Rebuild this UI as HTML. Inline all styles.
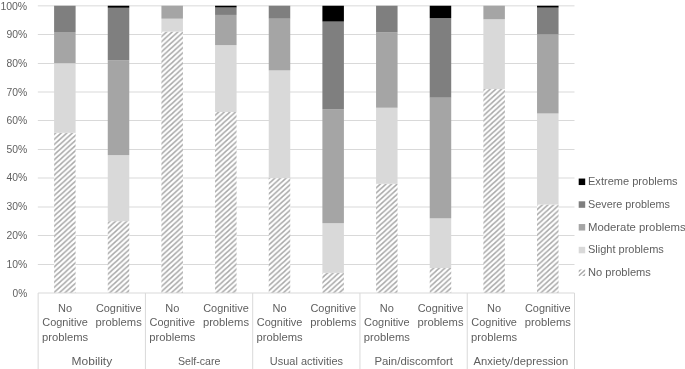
<!DOCTYPE html>
<html><head><meta charset="utf-8"><title>chart</title>
<style>html,body{margin:0;padding:0;background:#fff}svg{display:block}text{font-family:"Liberation Sans",sans-serif;fill:#5f5f5f}svg{will-change:transform;-webkit-font-smoothing:antialiased}</style></head>
<body>
<svg width="685" height="369" viewBox="0 0 685 369">
<defs><pattern id="h" width="5.6" height="5.1" patternUnits="userSpaceOnUse" patternTransform="translate(-0.7,107.8)"><rect width="5.6" height="5.1" fill="#fff"/><path d="M-2.8,2.55 L2.8,-2.55 M-2.8,7.6499999999999995 L8.399999999999999,-2.55 M2.8,7.6499999999999995 L8.399999999999999,2.55" stroke="#a8a8a8" stroke-width="1.45"/></pattern></defs>
<rect width="685" height="369" fill="#fff"/>
<line x1="37.85" x2="574.50" y1="264.50" y2="264.50" stroke="#d9d9d9" stroke-width="1"/>
<line x1="37.85" x2="574.50" y1="235.50" y2="235.50" stroke="#d9d9d9" stroke-width="1"/>
<line x1="37.85" x2="574.50" y1="207.00" y2="207.00" stroke="#d9d9d9" stroke-width="1"/>
<line x1="37.85" x2="574.50" y1="178.00" y2="178.00" stroke="#d9d9d9" stroke-width="1"/>
<line x1="37.85" x2="574.50" y1="149.50" y2="149.50" stroke="#d9d9d9" stroke-width="1"/>
<line x1="37.85" x2="574.50" y1="120.50" y2="120.50" stroke="#d9d9d9" stroke-width="1"/>
<line x1="37.85" x2="574.50" y1="92.00" y2="92.00" stroke="#d9d9d9" stroke-width="1"/>
<line x1="37.85" x2="574.50" y1="63.50" y2="63.50" stroke="#d9d9d9" stroke-width="1"/>
<line x1="37.85" x2="574.50" y1="34.50" y2="34.50" stroke="#d9d9d9" stroke-width="1"/>
<line x1="37.85" x2="574.50" y1="5.85" y2="5.85" stroke="#d9d9d9" stroke-width="1"/>
<rect x="54.10" y="132.86" width="21.50" height="160.14" fill="url(#h)"/>
<rect x="54.10" y="63.20" width="21.50" height="69.66" fill="#d9d9d9"/>
<rect x="54.10" y="32.03" width="21.50" height="31.17" fill="#a5a5a5"/>
<rect x="54.10" y="5.75" width="21.50" height="26.28" fill="#7f7f7f"/>
<rect x="107.76" y="221.19" width="21.50" height="71.81" fill="url(#h)"/>
<rect x="107.76" y="155.12" width="21.50" height="66.07" fill="#d9d9d9"/>
<rect x="107.76" y="60.33" width="21.50" height="94.79" fill="#a5a5a5"/>
<rect x="107.76" y="7.76" width="21.50" height="52.57" fill="#7f7f7f"/>
<rect x="107.76" y="5.75" width="21.50" height="2.01" fill="#000000"/>
<rect x="161.42" y="31.60" width="21.50" height="261.40" fill="url(#h)"/>
<rect x="161.42" y="18.68" width="21.50" height="12.93" fill="#d9d9d9"/>
<rect x="161.42" y="5.75" width="21.50" height="12.93" fill="#a5a5a5"/>
<rect x="215.08" y="112.03" width="21.50" height="180.97" fill="url(#h)"/>
<rect x="215.08" y="45.10" width="21.50" height="66.93" fill="#d9d9d9"/>
<rect x="215.08" y="14.94" width="21.50" height="30.16" fill="#a5a5a5"/>
<rect x="215.08" y="7.47" width="21.50" height="7.47" fill="#7f7f7f"/>
<rect x="215.08" y="5.75" width="21.50" height="1.72" fill="#000000"/>
<rect x="268.74" y="178.10" width="21.50" height="114.90" fill="url(#h)"/>
<rect x="268.74" y="70.38" width="21.50" height="107.72" fill="#d9d9d9"/>
<rect x="268.74" y="18.68" width="21.50" height="51.71" fill="#a5a5a5"/>
<rect x="268.74" y="5.75" width="21.50" height="12.93" fill="#7f7f7f"/>
<rect x="322.40" y="272.89" width="21.50" height="20.11" fill="url(#h)"/>
<rect x="322.40" y="223.20" width="21.50" height="49.69" fill="#d9d9d9"/>
<rect x="322.40" y="109.16" width="21.50" height="114.04" fill="#a5a5a5"/>
<rect x="322.40" y="21.55" width="21.50" height="87.61" fill="#7f7f7f"/>
<rect x="322.40" y="5.75" width="21.50" height="15.80" fill="#000000"/>
<rect x="376.06" y="183.84" width="21.50" height="109.16" fill="url(#h)"/>
<rect x="376.06" y="107.72" width="21.50" height="76.12" fill="#d9d9d9"/>
<rect x="376.06" y="32.18" width="21.50" height="75.55" fill="#a5a5a5"/>
<rect x="376.06" y="5.75" width="21.50" height="26.43" fill="#7f7f7f"/>
<rect x="429.72" y="268.01" width="21.50" height="24.99" fill="url(#h)"/>
<rect x="429.72" y="218.31" width="21.50" height="49.69" fill="#d9d9d9"/>
<rect x="429.72" y="97.67" width="21.50" height="120.65" fill="#a5a5a5"/>
<rect x="429.72" y="18.10" width="21.50" height="79.57" fill="#7f7f7f"/>
<rect x="429.72" y="5.75" width="21.50" height="12.35" fill="#000000"/>
<rect x="483.38" y="89.05" width="21.50" height="203.95" fill="url(#h)"/>
<rect x="483.38" y="19.25" width="21.50" height="69.80" fill="#d9d9d9"/>
<rect x="483.38" y="5.75" width="21.50" height="13.50" fill="#a5a5a5"/>
<rect x="537.04" y="204.53" width="21.50" height="88.47" fill="url(#h)"/>
<rect x="537.04" y="113.47" width="21.50" height="91.06" fill="#d9d9d9"/>
<rect x="537.04" y="34.48" width="21.50" height="78.99" fill="#a5a5a5"/>
<rect x="537.04" y="7.62" width="21.50" height="26.86" fill="#7f7f7f"/>
<rect x="537.04" y="5.75" width="21.50" height="1.87" fill="#000000"/>
<line x1="38.15" x2="574.50" y1="293.00" y2="293.00" stroke="#d9d9d9" stroke-width="1"/>
<line x1="38.15" x2="38.15" y1="293.00" y2="369" stroke="#d9d9d9" stroke-width="1"/>
<line x1="145.42" x2="145.42" y1="293.00" y2="369" stroke="#d9d9d9" stroke-width="1"/>
<line x1="252.69" x2="252.69" y1="293.00" y2="369" stroke="#d9d9d9" stroke-width="1"/>
<line x1="359.96" x2="359.96" y1="293.00" y2="369" stroke="#d9d9d9" stroke-width="1"/>
<line x1="467.23" x2="467.23" y1="293.00" y2="369" stroke="#d9d9d9" stroke-width="1"/>
<line x1="574.50" x2="574.50" y1="293.00" y2="369" stroke="#d9d9d9" stroke-width="1"/>
<text x="12.54" y="296.50" font-size="10.7" textLength="14.66" lengthAdjust="spacingAndGlyphs">0%</text>
<text x="6.46" y="267.77" font-size="10.7" textLength="20.74" lengthAdjust="spacingAndGlyphs">10%</text>
<text x="6.46" y="239.05" font-size="10.7" textLength="20.74" lengthAdjust="spacingAndGlyphs">20%</text>
<text x="6.46" y="210.32" font-size="10.7" textLength="20.74" lengthAdjust="spacingAndGlyphs">30%</text>
<text x="6.46" y="181.35" font-size="10.7" textLength="20.74" lengthAdjust="spacingAndGlyphs">40%</text>
<text x="6.46" y="152.88" font-size="10.7" textLength="20.74" lengthAdjust="spacingAndGlyphs">50%</text>
<text x="6.46" y="124.15" font-size="10.7" textLength="20.74" lengthAdjust="spacingAndGlyphs">60%</text>
<text x="6.46" y="96.28" font-size="10.7" textLength="20.74" lengthAdjust="spacingAndGlyphs">70%</text>
<text x="6.46" y="66.70" font-size="10.7" textLength="20.74" lengthAdjust="spacingAndGlyphs">80%</text>
<text x="6.46" y="37.98" font-size="10.7" textLength="20.74" lengthAdjust="spacingAndGlyphs">90%</text>
<text x="0.38" y="9.80" font-size="10.7" textLength="26.82" lengthAdjust="spacingAndGlyphs">100%</text>
<text x="58.03" y="311.60" font-size="10.7" textLength="14.07" lengthAdjust="spacingAndGlyphs">No</text>
<text x="42.27" y="326.25" font-size="10.7" textLength="45.60" lengthAdjust="spacingAndGlyphs">Cognitive</text>
<text x="42.00" y="340.90" font-size="10.7" textLength="46.12" lengthAdjust="spacingAndGlyphs">problems</text>
<text x="95.90" y="311.60" font-size="10.7" textLength="45.60" lengthAdjust="spacingAndGlyphs">Cognitive</text>
<text x="95.64" y="326.25" font-size="10.7" textLength="46.12" lengthAdjust="spacingAndGlyphs">problems</text>
<text x="165.30" y="311.60" font-size="10.7" textLength="14.07" lengthAdjust="spacingAndGlyphs">No</text>
<text x="149.54" y="326.25" font-size="10.7" textLength="45.60" lengthAdjust="spacingAndGlyphs">Cognitive</text>
<text x="149.28" y="340.90" font-size="10.7" textLength="46.12" lengthAdjust="spacingAndGlyphs">problems</text>
<text x="203.17" y="311.60" font-size="10.7" textLength="45.60" lengthAdjust="spacingAndGlyphs">Cognitive</text>
<text x="202.91" y="326.25" font-size="10.7" textLength="46.12" lengthAdjust="spacingAndGlyphs">problems</text>
<text x="272.57" y="311.60" font-size="10.7" textLength="14.07" lengthAdjust="spacingAndGlyphs">No</text>
<text x="256.81" y="326.25" font-size="10.7" textLength="45.60" lengthAdjust="spacingAndGlyphs">Cognitive</text>
<text x="256.55" y="340.90" font-size="10.7" textLength="46.12" lengthAdjust="spacingAndGlyphs">problems</text>
<text x="310.44" y="311.60" font-size="10.7" textLength="45.60" lengthAdjust="spacingAndGlyphs">Cognitive</text>
<text x="310.18" y="326.25" font-size="10.7" textLength="46.12" lengthAdjust="spacingAndGlyphs">problems</text>
<text x="379.84" y="311.60" font-size="10.7" textLength="14.07" lengthAdjust="spacingAndGlyphs">No</text>
<text x="364.08" y="326.25" font-size="10.7" textLength="45.60" lengthAdjust="spacingAndGlyphs">Cognitive</text>
<text x="363.82" y="340.90" font-size="10.7" textLength="46.12" lengthAdjust="spacingAndGlyphs">problems</text>
<text x="417.71" y="311.60" font-size="10.7" textLength="45.60" lengthAdjust="spacingAndGlyphs">Cognitive</text>
<text x="417.45" y="326.25" font-size="10.7" textLength="46.12" lengthAdjust="spacingAndGlyphs">problems</text>
<text x="487.11" y="311.60" font-size="10.7" textLength="14.07" lengthAdjust="spacingAndGlyphs">No</text>
<text x="471.35" y="326.25" font-size="10.7" textLength="45.60" lengthAdjust="spacingAndGlyphs">Cognitive</text>
<text x="471.09" y="340.90" font-size="10.7" textLength="46.12" lengthAdjust="spacingAndGlyphs">problems</text>
<text x="524.98" y="311.60" font-size="10.7" textLength="45.60" lengthAdjust="spacingAndGlyphs">Cognitive</text>
<text x="524.72" y="326.25" font-size="10.7" textLength="46.12" lengthAdjust="spacingAndGlyphs">problems</text>
<text x="71.58" y="364.80" font-size="10.7" textLength="40.61" lengthAdjust="spacingAndGlyphs">Mobility</text>
<text x="177.88" y="364.80" font-size="10.7" textLength="42.55" lengthAdjust="spacingAndGlyphs">Self-care</text>
<text x="269.87" y="364.80" font-size="10.7" textLength="73.12" lengthAdjust="spacingAndGlyphs">Usual activities</text>
<text x="374.40" y="364.80" font-size="10.7" textLength="78.58" lengthAdjust="spacingAndGlyphs">Pain/discomfort</text>
<text x="473.58" y="364.80" font-size="10.7" textLength="94.76" lengthAdjust="spacingAndGlyphs">Anxiety/depression</text>
<rect x="578.7" y="178.55" width="6.5" height="6.5" fill="#000000"/>
<text x="588.00" y="185.00" font-size="10.7" textLength="89.62" lengthAdjust="spacingAndGlyphs">Extreme problems</text>
<rect x="578.7" y="201.30" width="6.5" height="6.5" fill="#7f7f7f"/>
<text x="588.00" y="207.75" font-size="10.7" textLength="81.87" lengthAdjust="spacingAndGlyphs">Severe problems</text>
<rect x="578.7" y="224.05" width="6.5" height="6.5" fill="#a5a5a5"/>
<text x="588.00" y="230.50" font-size="10.7" textLength="97.62" lengthAdjust="spacingAndGlyphs">Moderate problems</text>
<rect x="578.7" y="246.80" width="6.5" height="6.5" fill="#d9d9d9"/>
<text x="588.00" y="253.25" font-size="10.7" textLength="75.83" lengthAdjust="spacingAndGlyphs">Slight problems</text>
<clipPath id="sw"><rect x="578.70" y="269.55" width="6.5" height="6.5"/></clipPath>
<path clip-path="url(#sw)" d="M565.93,283.00 L588.33,262.60 M570.75,283.00 L593.15,262.60 M575.57,283.00 L597.97,262.60" stroke="#ababab" stroke-width="1.5" fill="none"/>
<text x="588.00" y="276.00" font-size="10.7" textLength="62.91" lengthAdjust="spacingAndGlyphs">No problems</text>
</svg>
</body></html>
